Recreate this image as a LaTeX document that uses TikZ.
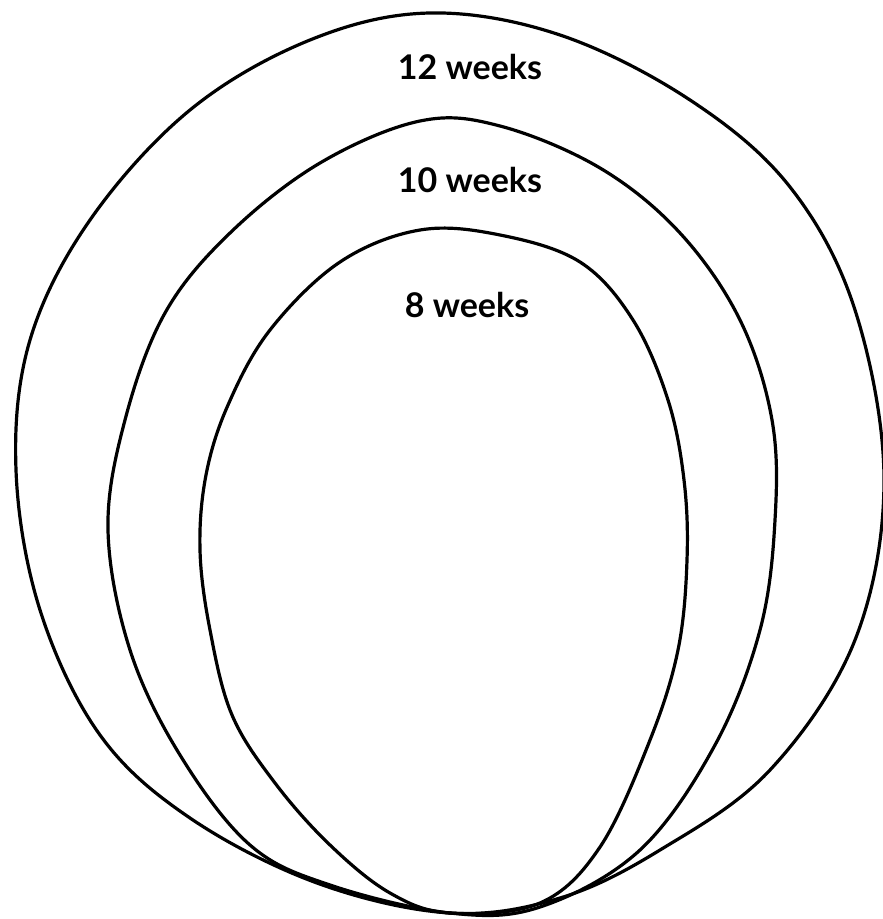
\documentclass[tikz,border=0pt]{standalone}
\usepackage{fontspec}
\setmainfont{Lato}
\begin{document}
\begin{tikzpicture}[x=0.5pt,y=-0.5pt,
  curve/.style={draw=black,line width=1.6pt,line join=round},
  lbl/.style={font=\fontsize{17}{20}\selectfont\bfseries,anchor=base,inner sep=0pt}]
\useasboundingbox[fill=white] (0,0) rectangle (882,919);
% outer (12 weeks)
\draw[curve] plot[smooth cycle,tension=0.6] coordinates {
 (450,913) (317,883) (190,818) (100,735) (40,610) (16,470) (30,340) (90,220)
 (190,110) (310,40) (430,13) (560,35) (690,100) (790,187) (855,310) (884,480)
 (855,640) (770,770) (660,850) (560,898)};
% middle (10 weeks)
\draw[curve] plot[smooth cycle,tension=0.6] coordinates {
 (450,913) (330,885) (250,845) (180,755) (130,650) (108,530) (125,420) (165,313)
 (230,233) (320,163) (420,121) (500,126) (600,168) (680,233) (740,320) (772,420)
 (775,520) (760,630) (715,745) (640,850) (540,907)};
% inner (8 weeks)
\draw[curve] plot[smooth cycle,tension=0.6] coordinates {
 (450,913) (390,893) (330,845) (275,783) (232,715) (210,630) (200,550) (206,475)
 (228,405) (270,330) (340,262) (420,230) (500,235) (580,262) (633,320) (668,400)
 (684,480) (687,560) (678,650) (650,740) (600,847) (540,903)};
\node[lbl] (l12) at (470,80) {12 weeks};
\node[lbl] (l10) at (470,193) {10 weeks};
\node[lbl] (l8) at (467,317) {8 weeks};
\end{tikzpicture}
\end{document}
